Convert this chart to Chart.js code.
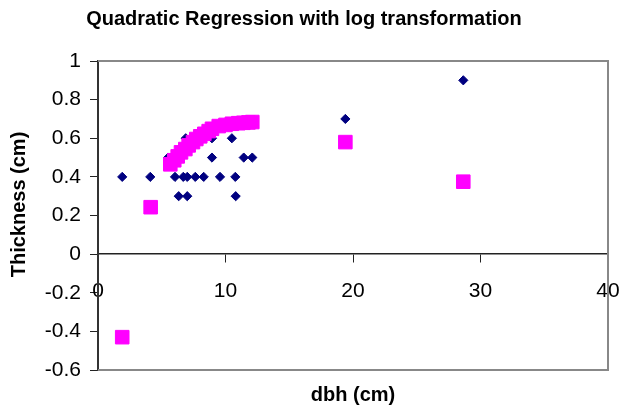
<!DOCTYPE html>
<html>
<head>
<meta charset="utf-8">
<script src="https://cdn.jsdelivr.net/npm/chart.js@4/dist/chart.umd.min.js"></script>
<style>
  html, body { margin: 0; padding: 0; background: #ffffff; }
  #wrap { width: 621px; height: 409px; }
</style>
</head>
<body>
<div id="wrap"><canvas id="c" width="621" height="409"></canvas></div>
<script>
// Observed data (dbh in cm, thickness in cm)
const obsDbh   = [1.9, 4.1, 6.04, 6.69, 7.0, 7.63, 8.29, 9.57, 10.77, 6.33, 7.0, 10.8, 5.5, 8.94, 11.43, 12.1, 6.88, 8.94, 10.5, 19.4, 28.65];
const obsThick = [0.4, 0.4, 0.4, 0.4, 0.4, 0.4, 0.4, 0.4, 0.4, 0.3, 0.3, 0.3, 0.5, 0.5, 0.5, 0.5, 0.6, 0.6, 0.6, 0.7, 0.9];

// Fitted values (quadratic regression with log transformation)
const fitDbh   = [1.9, 4.13, 5.67, 5.98, 6.25, 6.51, 6.85, 7.11, 7.45, 7.71, 8.02, 8.34, 8.68, 8.94, 9.47, 10.0, 10.5, 11.0, 11.4, 11.8, 12.1, 19.4, 28.65];
const fitThick = [-0.43, 0.243, 0.465, 0.486, 0.506, 0.527, 0.544, 0.563, 0.58, 0.596, 0.61, 0.623, 0.637, 0.649, 0.663, 0.669, 0.675, 0.678, 0.68, 0.682, 0.684, 0.58, 0.375];

const xTicks = [0, 10, 20, 30, 40];
const yTicks = [-0.6, -0.4, -0.2, 0, 0.2, 0.4, 0.6, 0.8, 1];

const chartTitle = 'Quadratic Regression with log transformation';
const xTitle = 'dbh (cm)';
const yTitle = 'Thickness (cm)';

const FONT = '"Liberation Sans", Arial, Helvetica, sans-serif';

const toPoints = (xs, ys) => xs.map((x, i) => ({ x: x, y: ys[i] }));

const framePlugin = {
  id: 'frame',
  beforeDatasetsDraw(chart) {
    const a = chart.chartArea, ctx = chart.ctx;
    ctx.save();
    ctx.strokeStyle = '#888888';
    ctx.lineWidth = 2;
    ctx.beginPath();
    ctx.moveTo(a.left, a.top);
    ctx.lineTo(a.right, a.top);
    ctx.lineTo(a.right, a.bottom);
    ctx.lineTo(a.left, a.bottom);
    ctx.stroke();
    ctx.restore();
  }
};

// y-axis title centred on the full chart height, as in the reference
const yTitlePlugin = {
  id: 'yTitle',
  afterDraw(chart) {
    const ctx = chart.ctx;
    ctx.save();
    ctx.translate(19, chart.height / 2);
    ctx.rotate(-Math.PI / 2);
    ctx.font = 'bold 20px ' + FONT;
    ctx.fillStyle = '#000000';
    ctx.textAlign = 'center';
    ctx.textBaseline = 'middle';
    ctx.fillText(yTitle, 0, 0);
    ctx.restore();
  }
};

new Chart(document.getElementById('c'), {
  type: 'scatter',
  data: {
    datasets: [
      {
        label: 'Observed',
        data: toPoints(obsDbh, obsThick),
        pointStyle: 'rectRot',
        pointRadius: 4.6,
        pointHoverRadius: 4.6,
        backgroundColor: '#000080',
        borderColor: '#000080',
        borderWidth: 1,
        order: 2
      },
      {
        label: 'Fitted',
        data: toPoints(fitDbh, fitThick),
        pointStyle: 'rect',
        pointRadius: 9.6,
        pointHoverRadius: 9.6,
        backgroundColor: '#FF00FF',
        borderColor: '#FF00FF',
        borderWidth: 1,
        order: 1
      }
    ]
  },
  plugins: [framePlugin, yTitlePlugin],
  options: {
    responsive: false,
    animation: false,
    devicePixelRatio: 1,
    layout: { padding: { left: 0, right: 13, top: 0, bottom: 0 } },
    plugins: {
      legend: { display: false },
      tooltip: { enabled: false },
      title: {
        display: true,
        text: chartTitle,
        color: '#000000',
        font: { family: FONT, size: 20, weight: 'bold', lineHeight: 1.2 },
        padding: { top: 7, bottom: 30 }
      }
    },
    scales: {
      x: {
        type: 'linear',
        position: { y: 0 },
        min: 0,
        max: 40,
        afterBuildTicks: s => { s.ticks = xTicks.map(v => ({ value: v })); },
        afterFit: s => { s.height = 0; s.paddingLeft = 0; s.paddingRight = 0; },
        grid: { display: true, drawOnChartArea: false, drawTicks: true, tickLength: 8, color: '#222222', lineWidth: 1 },
        border: { display: true, color: '#222222', width: 1.5 },
        ticks: {
          color: '#000000',
          font: { family: FONT, size: 21 },
          padding: 16,
          maxRotation: 0,
          autoSkip: false,
          callback: v => String(v)
        }
      },
      x2: {
        type: 'linear',
        position: 'bottom',
        min: 0,
        max: 40,
        afterFit: s => { s.height = 39; s.paddingLeft = 0; s.paddingRight = 0; },
        grid: { display: false },
        border: { display: false },
        ticks: { display: false },
        title: {
          display: true,
          text: xTitle,
          color: '#000000',
          font: { family: FONT, size: 20, weight: 'bold', lineHeight: 1.2 },
          padding: { top: 0, bottom: 2 }
        }
      },
      y: {
        type: 'linear',
        position: 'left',
        min: -0.6,
        max: 1,
        afterBuildTicks: s => { s.ticks = yTicks.map(v => ({ value: v })); },
        afterFit: s => { s.width = 98; },
        grid: { display: true, drawOnChartArea: false, drawTicks: true, tickLength: 8, color: '#222222', lineWidth: 1 },
        border: { display: true, color: '#333333', width: 2 },
        ticks: {
          color: '#000000',
          font: { family: FONT, size: 21 },
          padding: 9,
          callback: v => String(parseFloat(Number(v).toFixed(1)))
        }
      }
    }
  }
});
</script>
</body>
</html>
